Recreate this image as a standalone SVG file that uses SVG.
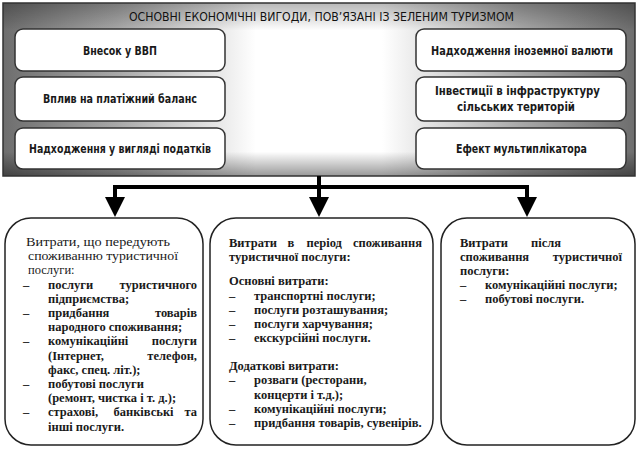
<svg xmlns="http://www.w3.org/2000/svg" width="640" height="450" viewBox="0 0 640 450">
<style>
.hdr{font-family:"Liberation Sans Narrow","DejaVu Sans Condensed","Liberation Sans",sans-serif;font-size:13px;fill:#111}
.bx{font-family:"Liberation Sans Narrow","DejaVu Sans Condensed","Liberation Sans",sans-serif;font-size:12px;font-weight:bold;fill:#1a1a1a}
.ib{fill:#fff;stroke:#333;stroke-width:1.5}
.cb{fill:#fff;stroke:#222;stroke-width:1.5}
.t{font-family:"Liberation Serif","DejaVu Serif",serif;font-size:12.5px;font-weight:bold;fill:#1a1a1a}
.tn{font-family:"Liberation Serif","DejaVu Serif",serif;font-size:12.5px;fill:#1a1a1a}
.conn{fill:none;stroke:#000;stroke-width:4;stroke-linejoin:miter}
</style>
<defs>
<linearGradient id="gh" x1="0" y1="0" x2="1" y2="0">
<stop offset="0" stop-color="#6e6e6e"/>
<stop offset="0.18" stop-color="#a8a8a8"/>
<stop offset="0.4" stop-color="#fff"/>
<stop offset="0.6" stop-color="#fff"/>
<stop offset="0.82" stop-color="#a8a8a8"/>
<stop offset="1" stop-color="#6e6e6e"/>
</linearGradient>
<linearGradient id="gv" x1="0" y1="0" x2="0" y2="1">
<stop offset="0" stop-color="#000" stop-opacity="0.28"/>
<stop offset="0.16" stop-color="#000" stop-opacity="0"/>
<stop offset="0.86" stop-color="#000" stop-opacity="0"/>
<stop offset="1" stop-color="#000" stop-opacity="0.4"/>
</linearGradient>
<marker id="ah" viewBox="0 0 20 20" refX="0" refY="10" markerWidth="20" markerHeight="20" markerUnits="userSpaceOnUse" orient="auto">
<path d="M0,0 L20,10 L0,20 Z" fill="#000"/>
</marker>
</defs>

<g id="benefits">
<rect x="3" y="3" width="632" height="173" fill="url(#gh)"/>
<rect x="3" y="3" width="632" height="173" fill="url(#gv)" stroke="#333" stroke-width="1.5"/>
<text class="hdr" x="129" y="21" textLength="385" lengthAdjust="spacingAndGlyphs">ОСНОВНІ ЕКОНОМІЧНІ ВИГОДИ, ПОВ’ЯЗАНІ ІЗ ЗЕЛЕНИМ ТУРИЗМОМ</text>
</g>

<g id="gdp">
<rect class="ib" x="15" y="29" width="210" height="42" rx="8"/>
<text class="bx" x="83" y="55" textLength="74" lengthAdjust="spacingAndGlyphs">Внесок у ВВП</text>
</g>
<g id="balance">
<rect class="ib" x="15" y="77" width="210" height="44" rx="8"/>
<text class="bx" x="43" y="103" textLength="154" lengthAdjust="spacingAndGlyphs">Вплив на платіжний баланс</text>
</g>
<g id="taxes">
<rect class="ib" x="15" y="128" width="210" height="41" rx="8"/>
<text class="bx" x="29" y="153" textLength="182" lengthAdjust="spacingAndGlyphs">Надходження у вигляді податків</text>
</g>
<g id="currency">
<rect class="ib" x="416" y="29" width="210" height="42" rx="8"/>
<text class="bx" x="431" y="55" textLength="182" lengthAdjust="spacingAndGlyphs">Надходження  іноземної валюти</text>
</g>
<g id="investment">
<rect class="ib" x="416" y="77" width="210" height="44" rx="8"/>
<text class="bx" x="435" y="95" textLength="165" lengthAdjust="spacingAndGlyphs">Інвестиції в інфраструктуру</text>
<text class="bx" x="457" y="111" textLength="118" lengthAdjust="spacingAndGlyphs">сільських територій</text>
</g>
<g id="multiplier">
<rect class="ib" x="416" y="128" width="210" height="41" rx="8"/>
<text class="bx" x="456" y="153" textLength="131" lengthAdjust="spacingAndGlyphs">Ефект мультиплікатора</text>
</g>

<g id="connectors">
<path class="conn" d="M319,176 V197" marker-end="url(#ah)"/>
<path class="conn" d="M321,187 H115 V197" marker-end="url(#ah)"/>
<path class="conn" d="M317,187 H527 V197" marker-end="url(#ah)"/>
</g>

<g id="before">
<rect class="cb" x="5" y="218" width="198" height="227" rx="26"/>
<text class="tn" x="26" y="246" textLength="144" lengthAdjust="spacingAndGlyphs">Витрати, що передують</text>
<text class="tn" x="28" y="260.2" textLength="150" lengthAdjust="spacingAndGlyphs">споживанню туристичної</text>
<text class="tn" x="28" y="274.4">послуги:</text>
<text class="t" x="23" y="288.6">–</text>
<text class="t" x="48" y="288.6">послуги</text>
<text class="t" x="197" y="288.6" text-anchor="end">туристичного</text>
<text class="t" x="48" y="302.8">підприємства;</text>
<text class="t" x="23" y="317">–</text>
<text class="t" x="48" y="317">придбання</text>
<text class="t" x="197" y="317" text-anchor="end">товарів</text>
<text class="t" x="48" y="331.2">народного споживання;</text>
<text class="t" x="23" y="345.4">–</text>
<text class="t" x="48" y="345.4">комунікаційні</text>
<text class="t" x="197" y="345.4" text-anchor="end">послуги</text>
<text class="t" x="48" y="359.6">(Інтернет,</text>
<text class="t" x="197" y="359.6" text-anchor="end">телефон,</text>
<text class="t" x="48" y="373.8">факс, спец. літ.);</text>
<text class="t" x="23" y="388">–</text>
<text class="t" x="48" y="388">побутові послуги</text>
<text class="t" x="48" y="402.2">(ремонт, чистка і т. д.);</text>
<text class="t" x="23" y="416.4">–</text>
<text class="t" x="48" y="416.4">страхові,</text>
<text class="t" x="143.5" y="416.4" text-anchor="middle">банківські</text>
<text class="t" x="197" y="416.4" text-anchor="end">та</text>
<text class="t" x="48" y="430.6">інші послуги.</text>
</g>

<g id="during">
<rect class="cb" x="210" y="218" width="223" height="227" rx="26"/>
<text class="t" x="229" y="246.5">Витрати</text>
<text class="t" x="287.5" y="246.5">в</text>
<text class="t" x="306.5" y="246.5">період</text>
<text class="t" x="422" y="246.5" text-anchor="end">споживання</text>
<text class="t" x="229" y="260.5">туристичної послуги:</text>
<text class="t" x="229" y="285">Основні витрати:</text>
<text class="t" x="229" y="299.5">–</text>
<text class="t" x="254" y="299.5">транспортні послуги;</text>
<text class="t" x="229" y="313.5">–</text>
<text class="t" x="254" y="313.5">послуги розташування;</text>
<text class="t" x="229" y="327.5">–</text>
<text class="t" x="254" y="327.5">послуги харчування;</text>
<text class="t" x="229" y="342">–</text>
<text class="t" x="254" y="342">екскурсійні послуги.</text>
<text class="t" x="229" y="369.5">Додаткові витрати:</text>
<text class="t" x="229" y="384">–</text>
<text class="t" x="254" y="384">розваги (ресторани,</text>
<text class="t" x="254" y="398.5">концерти і т.д.);</text>
<text class="t" x="229" y="412.5">–</text>
<text class="t" x="254" y="412.5">комунікаційні послуги;</text>
<text class="t" x="229" y="426.5">–</text>
<text class="t" x="254" y="426.5">придбання товарів, сувенірів.</text>
</g>

<g id="after">
<rect class="cb" x="441" y="218" width="194" height="227" rx="26"/>
<text class="t" x="460" y="247">Витрати</text>
<text class="t" x="531" y="247">після</text>
<text class="t" x="460" y="261">споживання</text>
<text class="t" x="622" y="261" text-anchor="end">туристичної</text>
<text class="t" x="460" y="275">послуги:</text>
<text class="t" x="460" y="289">–</text>
<text class="t" x="485" y="289">комунікаційні послуги;</text>
<text class="t" x="460" y="303">–</text>
<text class="t" x="485" y="303">побутові послуги.</text>
</g>
</svg>
